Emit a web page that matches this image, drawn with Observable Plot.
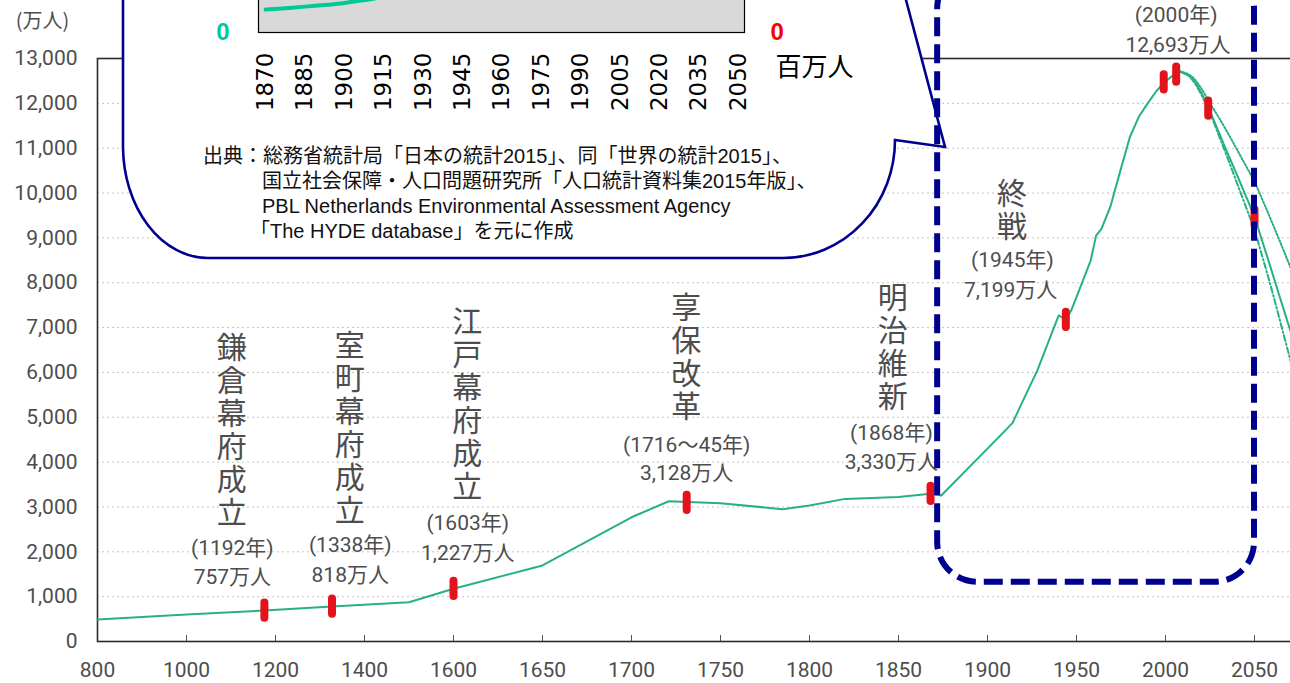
<!DOCTYPE html>
<html><head><meta charset="utf-8">
<script src="https://cdn.jsdelivr.net/npm/d3@7"></script>
<script src="https://cdn.jsdelivr.net/npm/@observablehq/plot@0.6"></script>
<style>
body{margin:0;background:#fff;overflow:hidden}
#wrap{position:relative;width:1290px;height:683px;overflow:hidden;background:#fff}
#wrap svg{position:absolute;left:0;top:0}
.src{position:absolute;font-family:"Liberation Sans","Noto Sans CJK JP",sans-serif;font-size:20px;line-height:20px;color:#111;white-space:nowrap}
.era{position:absolute;writing-mode:vertical-rl;text-orientation:upright;font-family:"Noto Sans CJK JP",sans-serif;font-size:30px;line-height:30px;letter-spacing:3px;color:#4d4d4d;white-space:nowrap}
</style></head><body><div id="wrap"></div>
<script>
// ---------- data ----------
const histYears = [800, 1000, 1175, 1327, 1500, 1600, 1650, 1700, 1721, 1750, 1785, 1800, 1820, 1850, 1868, 1874, 1900, 1914, 1928, 1940, 1944, 1947, 1950, 1955, 1958, 1961, 1964, 1969, 1975, 1980, 1985, 1990, 1995, 2000, 2005, 2008];
const histPop   = [490, 600, 690, 780, 875, 1175, 1695, 2770, 3128, 3085, 2950, 3035, 3180, 3220, 3295, 3255, 4300, 4870, 6045, 7270, 7180, 7380, 7680, 8190, 8500, 9050, 9200, 9690, 10550, 11250, 11700, 12000, 12280, 12490, 12650, 12710];
const projYears  = [2008, 2015, 2020, 2025, 2030, 2035, 2040, 2045, 2050, 2055, 2060, 2065, 2070, 2075, 2080];
const projMedium = [12710, 12550, 12250, 11820, 11350, 10880, 10420, 9950, 9460, 8850, 8220, 7580, 6950, 6300, 5650];
const projHigh   = [12710, 12590, 12340, 12000, 11680, 11340, 10980, 10620, 10250, 9800, 9330, 8850, 8360, 7850, 7330];
const projLow    = [12710, 12530, 12200, 11780, 11280, 10770, 10240, 9710, 9170, 8500, 7800, 7050, 6300, 5550, 4800];
const eventYears = [1175, 1327, 1600, 1731, 1868, 1944, 1999, 2006, 2024, 2050];
const eventPop   = [690, 780, 1175, 3090, 3290, 7170, 12470, 12640, 11880, 9460];
const xTickYears = [800, 1000, 1200, 1400, 1600, 1650, 1700, 1750, 1800, 1850, 1900, 1950, 2000, 2050];
const yTickValues = [0, 1000, 2000, 3000, 4000, 5000, 6000, 7000, 8000, 9000, 10000, 11000, 12000, 13000];
const eraTitles = ["鎌倉幕府成立", "室町幕府成立", "江戸幕府成立", "享保改革", "明治維新", "終戦"];
const eraYearTexts = ["(1192年)", "(1338年)", "(1603年)", "(1716〜45年)", "(1868年)", "(1945年)", "(2000年)"];
const eraPopTexts  = ["757万人", "818万人", "1,227万人", "3,128万人", "3,330万人", "7,199万人", "12,693万人"];
const focusPeriod = [{from: 1872, to: 2050, low: 1320, high: 15000}];
// inset (1870-2050, millions)
const insetYears = [1870, 1875, 1880, 1885, 1890, 1895, 1900, 1905, 1910, 1915, 1920, 1930, 1940, 1950, 1960, 1970, 1980, 1990, 2000, 2010, 2020, 2030, 2040, 2050];
const insetPop   = [34, 35.3, 36.6, 38.3, 40, 41.6, 43.8, 46.6, 49.2, 52.8, 56, 64.5, 71.9, 84.1, 94.3, 104.7, 117.1, 123.6, 126.9, 128.1, 124.1, 116.6, 107.3, 97.1];
const insetTicks = [1870, 1885, 1900, 1915, 1930, 1945, 1960, 1975, 1990, 2005, 2020, 2035, 2050];
const sourceLines = [
  "出典：総務省統計局「日本の統計2015」、同「世界の統計2015」、",
  "国立社会保障・人口問題研究所「人口統計資料集2015年版」、",
  "PBL Netherlands Environmental Assessment Agency",
  "「The HYDE database」を元に作成"
];

// ---------- layout (positions in data space) ----------
const titleAt = [[1103, 4705], [1368, 4761], [1608, 5285], [1731, 6344], [1847, 6567], [1914, 9611]];
const yearTextAt = [[1103, 2074], [1368, 2141], [1608, 2631], [1731, 4371], [1846, 4645], [1914, 8496], [2006, 13959]];
const popTextAt  = [[1103, 1434], [1368, 1472], [1608, 1962], [1731, 3746], [1846, 3997], [1913, 7827], [2007, 13290]];

// piecewise year axis: 200 years per step before 1600, 50 years per step after
const u = y => y <= 1600 ? (y - 800) / 4 : 200 + (y - 1600);

const green = "#27b086", red = "#e3121b", navy = "#00008f";
const gray = "#4d4d4d";
const numFont = "'Liberation Sans Narrow','Roboto','Noto Sans CJK JP',sans-serif";
const cjkFont = "'Noto Sans CJK JP',sans-serif";

const hist = histYears.map((y, i) => ({year: y, pop: histPop[i]}));
const proj = k => projYears.map((y, i) => ({year: y, pop: k[i]}));
const events = eventYears.map((y, i) => ({year: y, pop: eventPop[i]}));
const tickLabel = new Map(xTickYears.map(y => [u(y), String(y)]));
const idx = n => d3.range(n);

const common = {
  width: 1290, height: 683,
  marginLeft: 97, marginRight: -53, marginTop: 58, marginBottom: 42
};

const main = Plot.plot({
  ...common,
  style: {background: "transparent", fontFamily: numFont, fontSize: "21px", color: gray},
  x: {domain: [0, 700], ticks: xTickYears.map(u), tickFormat: d => tickLabel.get(d), tickSize: 0, tickPadding: 21, label: null},
  y: {domain: [0, 13000], ticks: yTickValues, tickFormat: d3.format(","), tickSize: 0, tickPadding: 20, label: null},
  marks: [
    Plot.ruleY(yTickValues.slice(1, -1), {stroke: "#c4c4c4", strokeDasharray: "2,3", strokeWidth: 1}),
    Plot.ruleX(xTickYears, {x: d => u(d), y1: 0, y2: 135, stroke: "#555", strokeWidth: 1}),
    Plot.frame({stroke: "#2a2a2a", strokeWidth: 1.6}),
    Plot.text(["(万人)"], {frameAnchor: "top-left", dx: -55, dy: -45, text: d => d, fontFamily: cjkFont, fontSize: 20, fill: gray, textAnchor: "middle"}),
    Plot.line(hist, {x: d => u(d.year), y: "pop", stroke: green, strokeWidth: 2}),
    Plot.line(proj(projHigh), {x: d => u(d.year), y: "pop", stroke: green, strokeWidth: 2, strokeDasharray: "1.5,2", curve: "monotone-x"}),
    Plot.line(proj(projLow), {x: d => u(d.year), y: "pop", stroke: green, strokeWidth: 2, strokeDasharray: "6,2.5,1.5,2.5", curve: "monotone-x"}),
    Plot.line(proj(projMedium), {x: d => u(d.year), y: "pop", stroke: green, strokeWidth: 2, curve: "monotone-x"}),
    Plot.ruleX(events, {x: d => u(d.year), y1: d => d.pop - 170, y2: d => d.pop + 170, stroke: red, strokeWidth: 8, strokeLinecap: "round"}),
    Plot.text(idx(eraYearTexts.length), {x: i => u(yearTextAt[i][0]), y: i => yearTextAt[i][1], text: i => eraYearTexts[i],
      fontFamily: numFont, fontSize: 21, fill: gray, textAnchor: "middle", lineAnchor: "middle"}),
    Plot.text(idx(eraPopTexts.length), {x: i => u(popTextAt[i][0]), y: i => popTextAt[i][1], text: i => eraPopTexts[i],
      fontFamily: numFont, fontSize: 21, fill: gray, textAnchor: "middle", lineAnchor: "middle"})
  ]
});

// speech-bubble outline (decoration, page coordinates)
function bubble() {
  const p = document.createElementNS("http://www.w3.org/2000/svg", "path");
  p.setAttribute("d", "M123,-40 L123,147 A85,112 0 0 0 208,258 L783,258 A112,118 0 0 0 895,140 L945,147 L906,0 L895,-40 Z");
  p.setAttribute("transform", "translate(0,100)");
  p.setAttribute("fill", "#fff");
  p.setAttribute("stroke", navy);
  p.setAttribute("stroke-width", "2.6");
  return p;
}

const inset = Plot.plot({
  width: 1290, height: 380,
  marginLeft: 258, marginRight: 546, marginTop: 37.4, marginBottom: 248,
  style: {background: "transparent", fontFamily: "'DejaVu Sans',sans-serif", fontSize: "23px", color: "#000"},
  x: {domain: [1867.3, 2052.3]},
  y: {domain: [0, 140], axis: null},
  marks: [
    bubble,
    Plot.frame({fill: "#d9d9d9", stroke: "#000", strokeWidth: 1.2}),
    Plot.axisX(insetTicks, {tickFormat: d => String(d), tickRotate: -90, tickSize: 0, tickPadding: 20, label: null, fontSize: 23, fontFamily: "'DejaVu Sans',sans-serif", fill: "#000"}),
    Plot.line(insetYears.map((y, i) => ({year: y, pop: insetPop[i]})), {x: "year", y: "pop", stroke: "#00c896", strokeWidth: 4, strokeLinecap: "round"}),
    Plot.text([0], {frameAnchor: "left", y: d => d, text: d => String(d), dx: -29, textAnchor: "end", fill: "#00c896", fontWeight: "bold", fontSize: 24, fontFamily: "'Liberation Sans',Arial,sans-serif"}),
    Plot.text([0], {frameAnchor: "right", y: d => d, text: d => String(d), dx: 26, textAnchor: "start", fill: "#ff0000", fontWeight: "bold", fontSize: 24, fontFamily: "'Liberation Sans',Arial,sans-serif"}),
    Plot.text(["百万人"], {frameAnchor: "right", y: 0, text: d => d, dx: 31, dy: 35, textAnchor: "start", fill: "#000", fontSize: 26, fontFamily: cjkFont})
  ]
});
inset.style.top = "-100px";

const box = Plot.plot({
  ...common,
  style: {background: "transparent"},
  x: {domain: [0, 700], axis: null},
  y: {domain: [0, 13000], axis: null},
  marks: [
    Plot.rect(focusPeriod, {x1: d => u(d.from), x2: d => u(d.to), y1: "low", y2: "high", rx: 40, fill: "none", stroke: navy, strokeWidth: 6, strokeDasharray: "19,8"})
  ]
});

const wrap = document.getElementById("wrap");
wrap.appendChild(main);

// vertical era titles, placed through the main chart's own scales
const sx = main.scale("x"), sy = main.scale("y");
eraTitles.forEach((t, i) => {
  const d = document.createElement("div");
  d.className = "era";
  d.textContent = t;
  wrap.appendChild(d);
  const w = d.offsetWidth, h = d.offsetHeight;
  d.style.left = (sx.apply(u(titleAt[i][0])) - w / 2) + "px";
  d.style.top = (sy.apply(titleAt[i][1]) - h / 2 + 1.5) + "px";
});

wrap.appendChild(inset);
const srcPos = [[203, 146], [262, 171], [262, 196], [250, 221]];
sourceLines.forEach((t, i) => {
  const d = document.createElement("div");
  d.className = "src";
  d.style.left = srcPos[i][0] + "px";
  d.style.top = srcPos[i][1] + "px";
  d.textContent = t;
  wrap.appendChild(d);
});
wrap.appendChild(box);
</script></body></html>
